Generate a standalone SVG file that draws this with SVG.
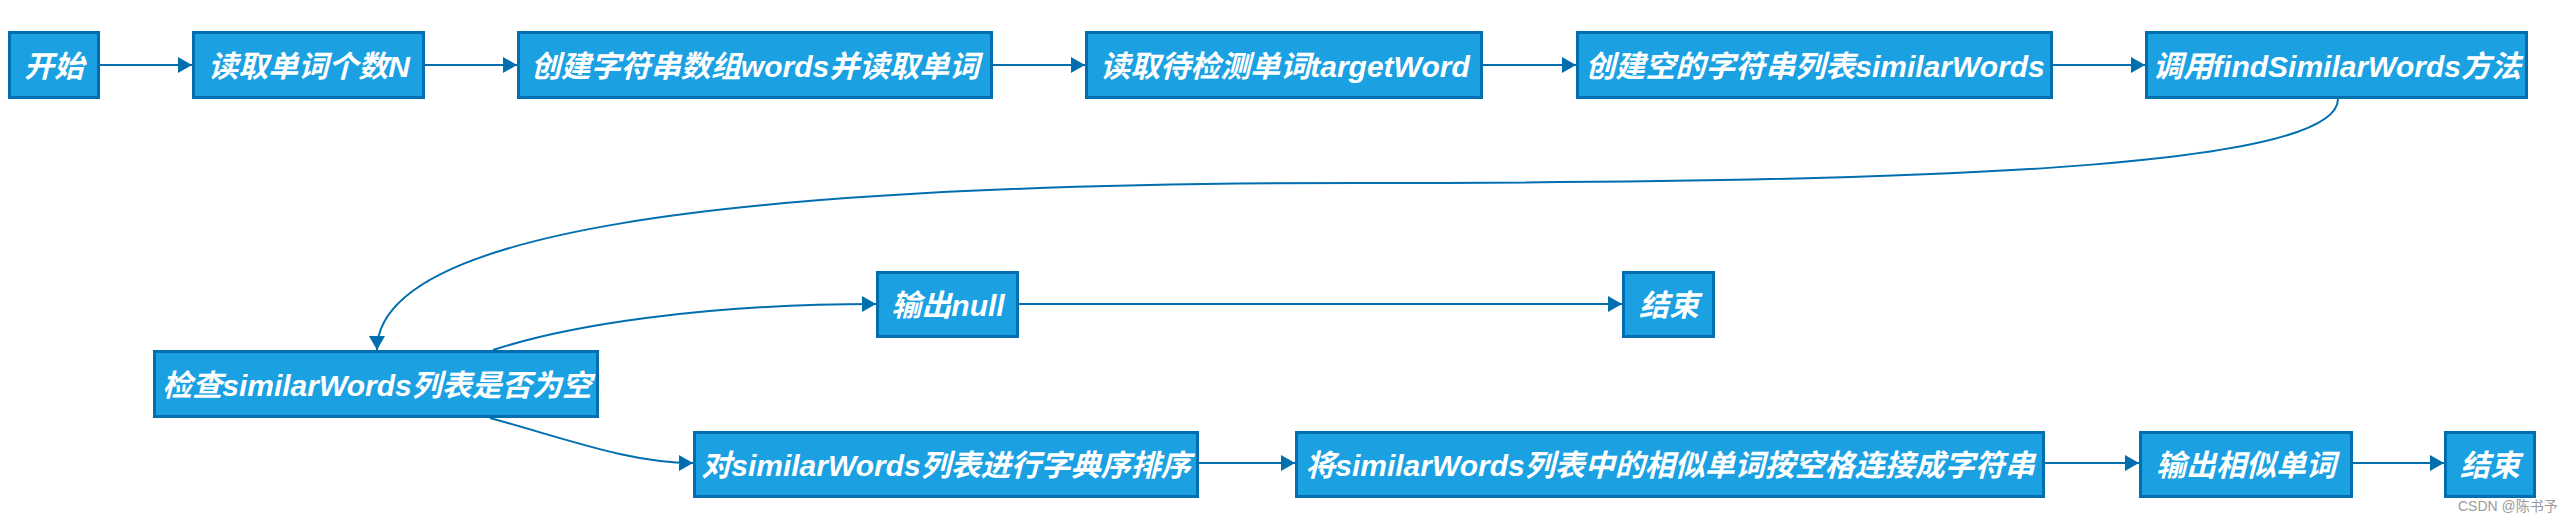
<svg xmlns="http://www.w3.org/2000/svg" width="2574" height="522" viewBox="0 0 2574 522">
<style>
.box{fill:#1ba1e2;stroke:#006eaf;stroke-width:3}
.lbl{fill:#ffffff;font-family:"Liberation Sans","Noto Sans CJK SC",sans-serif;font-size:30px;font-weight:bold;font-style:italic;text-anchor:middle;dominant-baseline:central}
.edge{fill:none;stroke:#006eaf;stroke-width:2}
.wm{fill:#9a9a9a;font-family:"Liberation Sans","Noto Sans CJK SC",sans-serif;font-size:14px}
</style>
<defs>
<marker id="arr" markerUnits="userSpaceOnUse" markerWidth="15" markerHeight="16" refX="14" refY="8" orient="auto">
<path d="M0,0 L14,8 L0,16 z" fill="#006eaf"/>
</marker>
</defs>
<rect width="2574" height="522" fill="#ffffff"/>
<g id="connectors">
<path class="edge" marker-end="url(#arr)" d="M100,65 L192,65"/>
<path class="edge" marker-end="url(#arr)" d="M425,65 L517,65"/>
<path class="edge" marker-end="url(#arr)" d="M993,65 L1085,65"/>
<path class="edge" marker-end="url(#arr)" d="M1483,65 L1576,65"/>
<path class="edge" marker-end="url(#arr)" d="M2053,65 L2145,65"/>
<path class="edge" marker-end="url(#arr)" d="M2338,99 C2338,170 1900,183 1360,183 C700,183 377,235 377,350"/>
<path class="edge" marker-end="url(#arr)" d="M493,350 C566,326 700,304 876,304"/>
<path class="edge" marker-end="url(#arr)" d="M1019,304 L1622,304"/>
<path class="edge" marker-end="url(#arr)" d="M490,418 C570,440 630,463 693,463"/>
<path class="edge" marker-end="url(#arr)" d="M1199,463 L1295,463"/>
<path class="edge" marker-end="url(#arr)" d="M2045,463 L2139,463"/>
<path class="edge" marker-end="url(#arr)" d="M2353,463 L2444,463"/>
</g>
<g id="n1"><rect class="box" x="9.5" y="32.5" width="89" height="65"/><text class="lbl" x="54" y="66">开始</text></g>
<g id="n2"><rect class="box" x="193.5" y="32.5" width="230" height="65"/><text class="lbl" x="309" y="66">读取单词个数N</text></g>
<g id="n3"><rect class="box" x="518.5" y="32.5" width="473" height="65"/><text class="lbl" x="755" y="66">创建字符串数组words并读取单词</text></g>
<g id="n4"><rect class="box" x="1086.5" y="32.5" width="395" height="65"/><text class="lbl" x="1285" y="66">读取待检测单词targetWord</text></g>
<g id="n5"><rect class="box" x="1577.5" y="32.5" width="474" height="65"/><text class="lbl" x="1815" y="66">创建空的字符串列表similarWords</text></g>
<g id="n6"><rect class="box" x="2146.5" y="32.5" width="380" height="65"/><text class="lbl" x="2337" y="66">调用findSimilarWords方法</text></g>
<g id="n7"><rect class="box" x="154.5" y="351.5" width="443" height="65"/><text class="lbl" x="377" y="385">检查similarWords列表是否为空</text></g>
<g id="n8"><rect class="box" x="877.5" y="272.5" width="140" height="64"/><text class="lbl" x="948" y="305">输出null</text></g>
<g id="n9"><rect class="box" x="1623.5" y="272.5" width="90" height="64"/><text class="lbl" x="1669" y="305">结束</text></g>
<g id="n10"><rect class="box" x="694.5" y="432.5" width="503" height="64"/><text class="lbl" x="946" y="465">对similarWords列表进行字典序排序</text></g>
<g id="n11"><rect class="box" x="1296.5" y="432.5" width="747" height="64"/><text class="lbl" x="1670" y="465">将similarWords列表中的相似单词按空格连接成字符串</text></g>
<g id="n12"><rect class="box" x="2140.5" y="432.5" width="211" height="64"/><text class="lbl" x="2246" y="465">输出相似单词</text></g>
<g id="n13"><rect class="box" x="2445.5" y="432.5" width="89" height="64"/><text class="lbl" x="2490" y="465">结束</text></g>
<text class="wm" x="2458" y="511">CSDN @陈书予</text>
</svg>
